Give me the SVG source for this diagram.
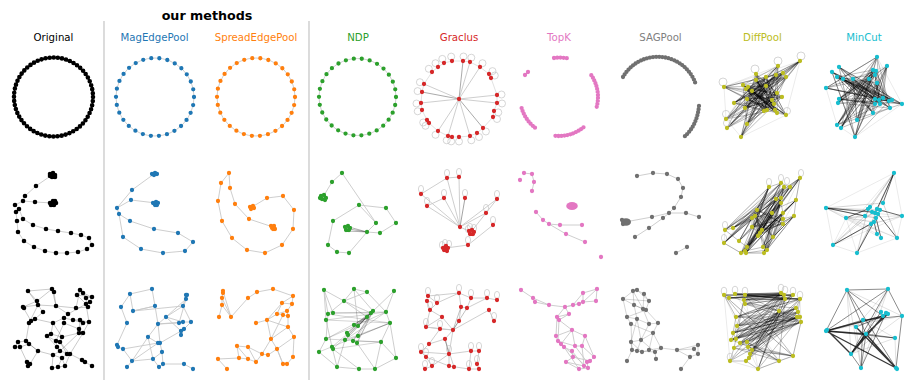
<svg xmlns="http://www.w3.org/2000/svg" width="913" height="388" viewBox="0 0 913 388">
<style>
text{font-family:"DejaVu Sans","Noto Sans",sans-serif;font-size:10.2px;text-anchor:middle}
.h{font-size:12.7px;font-weight:bold}
.n{fill:none;stroke-linecap:round;stroke-width:4.3}
.k{stroke:#000;stroke-width:4.6}
.b{stroke:#1f77b4}.o{stroke:#ff7f0e}.g{stroke:#2ca02c}.r{stroke:#d62728}.p{stroke:#e377c2}.s{stroke:#707070}.y{stroke:#bcbd22}.c{stroke:#17becf}
.e{fill:none;stroke:#c8c8c8;stroke-width:.9;stroke-linejoin:round}
.t{fill:none;stroke:#000;stroke-opacity:.24;stroke-width:.7;stroke-linejoin:round}
.d{fill:none;stroke:#000;stroke-opacity:.34;stroke-width:.75;stroke-linejoin:round}
.w{fill:none;stroke:#000;stroke-opacity:.12;stroke-width:.7;stroke-linejoin:round}
.lp{fill:none;stroke:#c4c4c4;stroke-width:.7}
.sep{stroke:#d3d3d3;stroke-width:1.6}
</style>
<rect width="913" height="388" fill="#fff"/>
<g id="titles">
<text x="207" y="20" class="h">our methods</text>
<text x="53.5" y="41">Original</text>
<text x="154.5" y="41" fill="#1f77b4">MagEdgePool</text>
<text x="256" y="41" fill="#ff7f0e">SpreadEdgePool</text>
<text x="358" y="41" fill="#2ca02c">NDP</text>
<text x="459" y="41" fill="#d62728">Graclus</text>
<text x="559" y="41" fill="#e377c2">TopK</text>
<text x="660.5" y="41" fill="#7f7f7f">SAGPool</text>
<text x="762.5" y="41" fill="#bcbd22">DiffPool</text>
<text x="864" y="41" fill="#17becf">MinCut</text>
</g>
<g id="separators">
<line x1="104" y1="21" x2="104" y2="380" class="sep"/>
<line x1="309" y1="21" x2="309" y2="380" class="sep"/>
</g>
<g id="connectors">
<circle cx="155" cy="97" r="39" class="e"/>
<circle cx="256" cy="97" r="39" class="e"/>
<circle cx="357.5" cy="97" r="38.5" class="e"/>
<path class="e" style="stroke:#dedede" d="M432 72L438 67L444 63L452 61L463 61L470 62L480 67L489 74L491 78L497 95L497 103L494 111L493 117L483 128L477 133L470 136L459 137L452 137L448 136L438 131L429 123L427 120L422 110L421 103L422 92L424 84Z"/>
<path class="e" d="M459 99L470 62M459 99L480 67M459 99L424 84M459 99L421 103M459 99L497 95M459 99L497 103M459 99L448 136M459 99L470 136M459 99L438 131"/>
<path class="e" style="stroke:#a0a0a0" d="M459 99L463 61M459 99L422 92M459 99L483 128"/>
<g class="lp"><circle cx="428.8" cy="68.8" r="3.5"/><circle cx="435.5" cy="63.2" r="3.5"/><circle cx="442.3" cy="58.9" r="3.5"/><circle cx="451.2" cy="56.6" r="3.5"/><circle cx="463.5" cy="56.5" r="3.5"/><circle cx="471.3" cy="57.7" r="3.5"/><circle cx="482.5" cy="63.2" r="3.5"/><circle cx="492.5" cy="71.1" r="3.5"/><circle cx="494.8" cy="75.5" r="3.5"/><circle cx="501.5" cy="94.5" r="3.5"/><circle cx="502" cy="103.5" r="3.5"/><circle cx="498.3" cy="112.4" r="3.5"/><circle cx="497" cy="119" r="3.5"/><circle cx="485.9" cy="131.5" r="3.5"/><circle cx="479" cy="137" r="3.5"/><circle cx="471.3" cy="140.3" r="3.5"/><circle cx="459" cy="141.5" r="3.5"/><circle cx="451.2" cy="141.4" r="3.5"/><circle cx="446.7" cy="140.3" r="3.5"/><circle cx="435.5" cy="134.8" r="3.5"/><circle cx="425.5" cy="125.8" r="3.5"/><circle cx="423.2" cy="122.5" r="3.5"/><circle cx="417.7" cy="111.3" r="3.5"/><circle cx="416.5" cy="103.5" r="3.5"/><circle cx="417.6" cy="91.1" r="3.5"/><circle cx="419.9" cy="82.2" r="3.5"/></g>
<path class="w" d="M800 61L724 87L726 119L741 137L786 115L800 61L727 128M800 61L741 137M778 66L724 87M778 66L741 137M756 74L726 119M724 87L786 115M800 61L745 108M778 66L727 128M724 87L777 113"/>
<path class="d" d="M800 61L734 103L776 75L747 124L743 85L777 113L756 74L741 137L766 86L724 87L782 97L745 108L783 73L727 128L748 87L775 110L756 80L726 119L777 93L746 89L764 111L778 66L747 99L786 115L766 77L752 91L774 104L786 77L772 100L767 110"/>
<path class="d" d="M778 66L726 119L786 77L745 108L766 77L741 137L782 97L743 85L767 110L756 74L786 115L734 103L766 86L727 128L783 73L752 91L777 113L724 87L772 100L756 80L774 104L747 124L800 61L746 89L775 110L747 99L776 75L764 111L748 87L777 93"/>
<path class="d" d="M724 87L777 93L727 128L776 75L747 99L800 61L745 108L752 91L786 115L756 80L764 111L743 85L786 77L747 124L782 97L756 74L775 110L726 119L778 66L774 104L734 103L783 73L741 137L766 86L748 87L777 113L766 77L746 89L767 110L772 100"/>
<path class="d" d="M741 137L756 80L782 97L726 119L800 61L752 91L767 110L724 87L783 73L764 111L734 103L786 77L746 89L786 115L743 85L778 66L777 113L747 99L766 77L747 124L777 93L756 74L745 108L772 100L727 128L774 104L748 87L800 61L766 86L776 75"/>
<path class="d" d="M746 89L774 104L752 91L775 110L748 87L782 97L747 99L767 110L766 86L745 108L777 93L764 111L772 100L743 85L777 113L756 80L786 115L766 77L734 103L783 73"/>
<path class="d" d="M724 87L783 73L726 119L776 75L727 128L800 61L741 137L778 66L734 103L786 77L745 108L782 97L747 99L777 93L747 124L766 86L746 89L786 115L752 91L777 113L748 87L775 110L756 80L767 110L756 74L764 111L743 85L774 104L766 77L772 100"/>
<g class="lp"><circle cx="801" cy="56" r="4"/><circle cx="778" cy="61" r="4"/><circle cx="755" cy="69" r="4"/><circle cx="723" cy="82" r="4"/><circle cx="726" cy="114" r="3.6"/><circle cx="727" cy="123" r="3.6"/><circle cx="787" cy="111" r="3.5"/></g>
<path class="w" d="M877 57L826 88L837 125L855 137L902 104L877 57M887 66L826 88M839 67L902 104M832 72L855 137M877 57L841 128M887 66L855 137M826 88L902 104M839 67L855 137M832 72L873 113M877 57L837 125"/>
<path class="d" d="M877 57L826 88L902 104L832 72L855 137L887 66L837 125L873 70L838 103L892 100L837 77L857 120L853 79L841 128L875 75L839 99L880 104L839 67L873 113L869 79L875 99L843 79L890 108L876 71L879 100L877 83L875 104L883 98L889 101"/>
<path class="d" d="M839 67L902 104L826 88L877 57L855 137L832 72L892 100L837 125L876 71L839 99L883 98L837 77L873 113L887 66L838 103L853 79L890 108L841 128L873 70L857 120L875 75L843 79L875 104L877 83L889 101L869 79L879 100L880 104L875 99"/>
<path class="d" d="M826 88L869 79L841 128L877 57L837 125L902 104L839 67L855 137L887 66L839 99L875 104L832 72L879 100L857 120L873 70L837 77L880 104L853 79L892 100L877 83L838 103L875 75L890 108L843 79L883 98L873 113L876 71L889 101L875 99"/>
<path class="d" d="M832 72L883 98L837 125L876 71L826 88L889 101L855 137L877 57L838 103L890 108L839 67L873 113L843 79L902 104L839 99L873 70L841 128L877 83L837 77L875 99L857 120L887 66L875 104L853 79L879 100L875 75L880 104L869 79L892 100"/>
<path class="d" d="M826 88L892 100L837 77L889 101L839 67L879 100L832 72L875 104L839 99L876 71L838 103L873 70L837 125L875 75L841 128L877 83L855 137L869 79L857 120L853 79L873 113L843 79L890 108L877 57L880 104L887 66L883 98L875 99L902 104"/>
<path class="e" d="M52 175L36 186L25 196L23 201L15 205L19 209L16 212L17 221L18 232L24 241L34 247L45 251L56 253L67 253L78 252L87 249L92 245L89 238L81 235L71 233L58 231L46 229L33 225L23 219L19 209M53 203L35 202L23 201"/>
<path class="e" d="M154 174L132 190L117 208L119 214M131 200L156 203M117 208L131 200M119 214L123 237L141 249L163 253L185 251L193 242L178 233L154 229L130 221L119 214"/>
<path class="e" d="M229 173L221 183L218 201L222 221L232 238L247 250L265 253L282 245L293 229L294 210L283 196L267 198L252 207M229 173L230 188L235 204L249 219L273 227"/>
<path class="e" d="M323 197L332 182L342 173L376 223M359 205L386 208L396 223L380 233L367 232L349 253L337 252L328 245L333 221L359 205L376 223L367 232"/>
<path class="t" style="stroke-opacity:.45" d="M349 227L367 232M349 229L367 232M348 231L367 232"/>
<path class="e" d="M421 194L447 178L459 177L460 227L421 194M460 227L444 198L427 206M460 227L427 206M460 227L497 199L486 213L471 232M460 227L486 213M493 225L468 245L446 248M460 227L471 232M447 178L460 227"/>
<path class="e" style="stroke:#999" d="M460 227L465 198"/>
<g class="lp"><ellipse cx="447" cy="173" rx="2.6" ry="3.6"/><ellipse cx="459" cy="172" rx="2.6" ry="3.6"/><ellipse cx="421" cy="189" rx="2.6" ry="3.6"/><ellipse cx="444" cy="193" rx="2.6" ry="3.6"/><ellipse cx="465" cy="193" rx="2.6" ry="3.6"/><ellipse cx="427" cy="201" rx="2.6" ry="3.6"/><ellipse cx="497" cy="194" rx="2.6" ry="3.6"/><ellipse cx="486" cy="208" rx="2.6" ry="3.6"/><ellipse cx="493" cy="220" rx="2.6" ry="3.6"/><ellipse cx="468" cy="240" rx="2.6" ry="3.6"/><ellipse cx="470" cy="227" rx="2.6" ry="3.6"/><ellipse cx="474" cy="228" rx="2.6" ry="3.6"/><ellipse cx="468" cy="229" rx="2.6" ry="3.6"/><ellipse cx="445" cy="243" rx="2.6" ry="3.6"/><ellipse cx="449" cy="244" rx="2.6" ry="3.6"/><ellipse cx="442" cy="245" rx="2.6" ry="3.6"/></g>
<path class="e" d="M524 173L532 174L534 182L532 191M536 212L543 220L549 224L560 225L582 225M549 224L566 234L585 242"/>
<path class="e" d="M637 176L653 173L667 174L678 179L683 188L681 197L674 208L669 213L663 218L649 228L635 237M625 222L652 217L669 213L686 213L699 217M687 247L676 253"/>
<path class="w" d="M800 178L724 243L741 253L764 253L796 200L800 178L725 230L724 243M769 187L725 230M781 183L733 228M800 178L764 253M769 187L724 243M796 200L741 253M800 178L746 253"/>
<path class="d" d="M800 178L741 253L781 183L724 243L790 187L747 247L769 187L725 230L784 187L745 251L781 198L733 228L796 200L746 253L776 199L739 241L781 203L763 247L794 216L764 253L783 213L767 250L772 213L758 236L757 210L760 233L783 219L752 227L783 224L762 230L755 216L773 237L752 218"/>
<path class="d" d="M725 230L800 178L745 251L784 187L724 243L781 183L746 253L790 187L739 241L769 187L741 253L796 200L747 247L781 198L733 228L776 199L764 253L781 203L763 247L772 213L760 233L783 213L752 227L794 216L758 236L783 219L762 230L783 224L757 210L773 237L755 216L767 250L752 218"/>
<path class="d" d="M724 243L741 253L764 253L783 224L794 216L796 200L800 178L790 187L781 183L769 187L757 210L733 228L725 230L739 241L747 247L746 253L767 250L773 237L783 219L783 213L781 203L772 213L752 218L752 227L760 233L763 247L745 251L758 236L762 230L755 216L776 199L781 198L784 187"/>
<path class="d" d="M741 253L790 187L745 251L800 178L746 253L796 200L747 247L781 183L764 253L784 187L767 250L794 216L763 247L781 198L773 237L783 213L758 236L781 203L760 233L772 213L762 230L776 199L752 227L769 187L739 241L757 210L724 243L755 216L733 228L752 218"/>
<path class="d" d="M739 241L800 178L733 228L781 183L725 230L790 187L724 243L784 187L747 247L769 187L745 251L781 198L741 253L796 200L746 253L776 199L752 227L781 203L762 230L772 213L760 233L783 213L758 236L794 216L773 237L783 224L757 210L783 219L755 216L752 218"/>
<g class="lp"><ellipse cx="769" cy="182" rx="2.6" ry="3.6"/><ellipse cx="781" cy="178" rx="2.6" ry="3.6"/><ellipse cx="801" cy="173" rx="2.6" ry="3.6"/><ellipse cx="787" cy="181" rx="2.6" ry="3.6"/><ellipse cx="725" cy="225" rx="2.6" ry="3.6"/><ellipse cx="724" cy="238" rx="2.6" ry="3.6"/></g>
<path class="w" d="M894 173L826 208L833 245L857 253L897 238L902 216L894 173M826 208L902 216M846 218L902 216M826 208L897 238M894 173L833 245M846 218L857 253M826 208L881 238M846 218L897 238M833 245L902 216M894 173L857 253M826 208L877 234M846 218L833 245"/>
<path class="t" d="M894 173L865 216L833 245M894 173L871 224L857 253M826 208L883 203L897 238M846 218L878 214M846 218L874 222M902 216L871 224L833 245M868 209L857 253M877 209L833 245M880 210L826 208M826 208L876 218M894 173L868 209"/>
<path fill="none" stroke="#000" stroke-opacity=".6" stroke-width="1" d="M875 213L894 173M872 212L826 208M874 222L833 245M876 218L857 253M878 214L897 238M876 218L881 238M868 209L846 218M880 210L902 216M877 234L874 222M883 203L894 173M865 216L826 208"/>
<path class="t" style="stroke-opacity:.3" d="M28 291L37 301L23 307L38 305L28 291L52 289L56 306L38 305L43 312L35 319M52 289L37 301M54 292L56 306L68 314L64 318M56 306L76 308L80 290L77 295L86 304L90 302L92 297L83 293L80 290L86 298L88 307L76 308M83 293L90 302M86 298L92 297M77 295L92 297M68 314L86 304L89 322L80 320L73 320L64 318L53 323L35 319L31 321L29 323L35 319M64 323L79 329L83 333L79 333L62 337M83 323L79 329M89 322L83 333M73 320L83 323L89 322M80 320L79 333M53 323L51 334L47 336L56 341L60 342L62 337L51 334M53 323L62 337M64 323L56 341M29 323L26 341M18 342L26 341L29 344L20 347L15 347L18 342L20 347M29 344L38 351L53 355M38 351L26 341M57 347L60 351L53 355L62 358L67 354L70 354L60 351M57 347L56 341M60 342L67 354M70 354L82 360L85 362L92 366M62 358L65 366L58 367L52 368L53 355M58 367L62 358M65 366L70 354M27 362L30 364L28 366L27 362L20 347M30 364L38 351M83 333L70 354M79 333L60 351M47 336L57 347M60 342L70 354M29 323L38 305M23 307L31 321"/>
<path class="e" d="M130 294L152 289L155 306L133 311L130 294L121 307M133 311L155 306M155 306L158 324L166 317L183 306L186 295L187 295L186 299L179 323M183 306L191 322M158 324L179 323L183 322L191 322L184 329L181 331L166 317M181 331L181 335L184 329M166 317L183 322M158 324L148 337L158 343L160 343L162 352L163 364L159 367L153 359L148 337M153 359L162 352M132 361L158 343M121 307L127 323L117 345L118 347L123 349L132 361L127 367M132 361L153 359M163 364L184 364L193 369M158 324L160 343M181 331L160 343M158 324L183 322M166 317L186 299M148 337L132 361M123 349L158 343M133 311L183 306"/>
<path class="e" d="M223 291L222 298L222 305L219 317M223 291L231 317L222 298M222 305L231 317L248 298L257 292L273 289L293 296L292 304L287 311L288 316L283 315L277 314L267 320L256 323M282 303L292 304M282 303L277 314M293 296L282 303M282 303L267 320M287 311L277 314M267 320L288 327L294 337L293 357L287 364L283 364L277 349L271 339L288 327M271 339L262 354L248 347L237 346L239 358L218 359L227 369M237 346L248 359L256 362L262 354L268 355L277 349L294 337M248 347L256 362M271 339L267 320M277 349L283 364M239 358L248 359M288 316L288 327M271 339L283 315"/>
<path class="e" d="M324 290L344 301L354 289L367 292L344 301L328 314L324 290L326 320M354 289L373 311M367 292L386 312L394 291L371 313M344 301L367 317M328 314L326 339L319 352L337 367L359 369L375 369L396 358L381 342L390 323L386 312M326 320L332 347L337 367M333 349L359 369M345 340L337 367M357 343L375 369M381 342L375 369M390 323L396 358M324 290L333 313M344 301L371 313M354 289L358 326"/>
<path class="t" d="M373 311L354 325M373 311L358 326M371 313L347 333M371 313L348 335M373 311L345 340M371 313L353 341M373 311L357 343M367 317L326 339M367 317L332 347M386 312L333 313M390 323L326 320M390 323L328 314M386 312L326 320M381 342L326 339M381 342L333 349M373 311L333 349M371 313L333 313M390 323L319 352M386 312L345 340"/>
<path class="t" d="M373 311L354 325M371 313L358 326M373 311L347 333M371 313L345 340M373 311L353 341M367 317L354 325M358 336L373 311M358 336L390 323M353 341L381 342M345 340L390 323M326 339L386 312M357 343L373 311"/>
<path class="e" d="M428 296L459 293L471 298L487 298L497 300M428 296L437 303L430 310L442 317L453 330L459 321L461 307L459 293M437 303L459 293M461 307L467 308L471 298M467 308L487 298M453 330L489 310L494 321M453 330L445 339L449 354L449 366L454 367M453 330L426 327L440 329L453 330M440 329L429 344L421 352L426 357L432 366L425 369M429 344L445 339M421 352L449 354L471 351L479 351L477 364L479 369L469 369L471 351M449 354L432 366M449 366L469 369M445 339L454 367M426 327L430 310M442 317L426 327M427 301L430 310M453 330L449 354M426 357L449 366"/>
<path class="t" style="stroke-opacity:.35" d="M453 330L467 308M453 330L461 307M445 339L449 354"/>
<g class="lp"><ellipse cx="428" cy="291" rx="2.6" ry="3.6"/><ellipse cx="459" cy="288" rx="2.6" ry="3.6"/><ellipse cx="471" cy="293" rx="2.6" ry="3.6"/><ellipse cx="487" cy="293" rx="2.6" ry="3.6"/><ellipse cx="497" cy="295" rx="2.6" ry="3.6"/><ellipse cx="437" cy="298" rx="2.6" ry="3.6"/><ellipse cx="430" cy="305" rx="2.6" ry="3.6"/><ellipse cx="426" cy="322" rx="2.6" ry="3.6"/><ellipse cx="421" cy="347" rx="2.6" ry="3.6"/><ellipse cx="426" cy="352" rx="2.6" ry="3.6"/><ellipse cx="432" cy="361" rx="2.6" ry="3.6"/><ellipse cx="449" cy="349" rx="2.6" ry="3.6"/><ellipse cx="471" cy="346" rx="2.6" ry="3.6"/><ellipse cx="479" cy="346" rx="2.6" ry="3.6"/><ellipse cx="469" cy="364" rx="2.6" ry="3.6"/><ellipse cx="477" cy="359" rx="2.6" ry="3.6"/><ellipse cx="425" cy="364" rx="2.6" ry="3.6"/><ellipse cx="494" cy="316" rx="2.6" ry="3.6"/><ellipse cx="440" cy="324" rx="2.6" ry="3.6"/></g>
<path class="e" d="M521 290L533 298L549 305L565 307L573 305L583 293L597 289L596 301L583 302L579 304L565 307M583 293L583 302L573 305M597 289L583 302M569 314L565 307M569 314L557 317L559 320L572 330L556 336L558 341L561 344L564 347L572 351L573 357L566 362L579 369L588 368L587 362L590 361L594 357L582 346L575 346L572 330L585 336L582 346M557 317L556 336M559 320L558 341M572 330L561 344M585 336L594 357M572 351L584 366M575 346L587 362M564 347L579 369M573 357L590 361M561 344L588 368M582 346L584 366M566 362L584 366M558 341L575 346M535 302L549 305M569 314L559 320M565 307L557 317"/>
<path class="t" d="M623 299L633 291L637 290L644 294L649 301L646 310L643 309L634 305L623 299L627 317L631 324L632 350L627 361M633 291L634 305L637 319L641 340L637 351M637 290L649 301M644 294L643 309L649 324L658 323L653 333L641 340L631 342L632 350L637 351L642 352L649 350L661 348L655 352L656 359M627 317L637 319L649 324M634 305L646 310L658 323M631 324L653 333L661 348M649 324L641 340M653 333L649 350M631 342L642 352M637 319L631 342M661 348L677 350L698 345L694 349L698 354L690 357L677 350M698 345L698 354M690 357L681 369M694 349L677 350M623 299L649 301M633 291L643 309M627 317L646 310M655 352L637 351M641 340L655 352"/>
<path class="w" d="M724 295L800 299L801 322L793 356L758 369L730 361L724 295M724 295L758 369M800 299L730 361M745 295L758 369M724 295L793 356M735 294L779 361"/>
<path class="d" d="M724 295L800 299L729 298L793 295L735 294L785 299L745 295L784 295L744 300L781 293L745 304L801 322L736 317L797 317L737 326L800 317L733 333L798 312L731 340L796 308L736 339L779 311L740 343L793 356L734 348L779 361L747 342L801 322L748 347L800 317L752 350L796 308"/>
<path class="d" d="M750 354L781 293L730 361L800 299L746 361L793 295L749 358L784 295L758 369L785 299L779 361L724 295L793 356L745 295L801 322L731 340L797 317L740 343L798 312L747 342L779 311L752 350L796 308L733 333L800 317L736 339L781 293L737 326L793 295L736 317L800 299"/>
<path class="d" d="M724 295L781 293L735 294L800 299L744 300L793 295L729 298L784 295L745 295L785 299L745 304L779 311L724 295L736 317L733 333L736 339L734 348L730 361L746 361L758 369L779 361L793 356L801 322L798 312L800 299L796 308L800 317L779 311L748 347L750 354L749 358L752 350L747 342L740 343L731 340L737 326L744 300"/>
<path class="d" d="M730 361L801 322L734 348L796 308L731 340L793 295L733 333L781 293L737 326L800 299L736 317L785 299L758 369L800 317L746 361L798 312L750 354L779 311L752 350L793 356L748 347L797 317L747 342L779 361L740 343L784 295L736 339L745 295"/>
<path class="d" d="M724 295L784 295L729 298L781 293L735 294L793 295L745 295L800 299L744 300L785 299L745 304L796 308M736 317L798 312L737 326L796 308L733 333L800 317L731 340L801 322L740 343L779 311L747 342L797 317"/>
<g class="lp"><ellipse cx="724" cy="291" rx="2.8" ry="3.8"/><ellipse cx="735" cy="290" rx="2.8" ry="3.8"/><ellipse cx="745" cy="291" rx="2.8" ry="3.8"/><ellipse cx="781" cy="288" rx="2.8" ry="3.8"/><ellipse cx="785" cy="290" rx="2.8" ry="3.8"/><ellipse cx="793" cy="291" rx="2.8" ry="3.8"/><ellipse cx="800" cy="295" rx="2.8" ry="3.8"/><ellipse cx="730" cy="357" rx="2.8" ry="3.8"/></g>
<path fill="none" stroke="#000" stroke-opacity=".15" stroke-width=".8" d="M847 290L902 316M847 290L861 368M888 289L861 368M888 289L856 327M902 316L851 354M895 338L851 354M895 338L896 368M902 316L826 331M847 290L851 354M863 320L895 338M856 327L861 368M888 289L866 334"/>
<path fill="none" stroke="#000" stroke-opacity=".45" stroke-width="1" d="M847 290L888 289M847 290L826 331M847 290L866 334M847 290L896 368M888 289L851 354M888 289L826 331M888 289L902 316M863 320L826 331M863 320L861 368M856 327L888 314M881 312L851 354M895 338L826 331M895 338L866 334M861 368L866 334M861 368L886 313M896 368L902 316M863 320L902 316M847 290L883 316M851 354L861 368"/>
<path fill="none" stroke="#000" stroke-opacity=".78" stroke-width="1.4" d="M826 331L866 334L896 368M827 330L851 354M826 331L896 368M851 354L886 313M866 334L888 314M866 334L851 354M826 331L883 316M856 327L896 368"/>
</g>
<g id="n-original-1"><circle cx="53.5" cy="97" r="39.5" class="n k" stroke-dasharray="0 4.136"/></g>
<g id="n-mag-1"><circle cx="155" cy="97" r="39" class="n b" stroke-dasharray="0 8.168"/></g>
<g id="n-spread-1"><circle cx="256" cy="97" r="39" class="n o" stroke-dasharray="0 8.168"/></g>
<g id="n-ndp-1"><circle cx="357.5" cy="97" r="38.5" class="n g" stroke-dasharray="0 8.063"/></g>
<g id="n-graclus-1"><path class="n r" d="M432 72h0M438 67h0M444 63h0M452 61h0M463 61h0M470 62h0M480 67h0M489 74h0M491 78h0M497 95h0M497 103h0M494 111h0M493 117h0M483 128h0M477 133h0M470 136h0M459 137h0M452 137h0M448 136h0M438 131h0M429 123h0M427 120h0M422 110h0M421 103h0M422 92h0M424 84h0M459 99h0"/></g>
<g id="n-topk-1"><path class="n p" stroke-width="3.6" d="M554 58h0M557.2 57.7h0M560.4 57.6h0M563.6 57.8h0M566.8 58.2h0M525 75h0M528 72h0"/><path class="n p" stroke-width="3.6" stroke-dasharray="0 3" d="M591.3 75.2A39 39 0 0 1 596.3 108.4M535 127.7A39 39 0 0 1 521.5 107.7M583.5 127.3A39 39 0 0 1 554.2 135.7"/></g>
<g id="n-sagpool-1"><path class="n s" stroke-width="3.5" stroke-dasharray="0 3.1" d="M623 77A40 40 0 0 1 696 85M699 106Q697 126 684 137"/></g>
<g id="n-diffpool-1"><path class="n y" d="M800 61h0M778 66h0M756 74h0M756 80h0M766 77h0M776 75h0M783 73h0M786 77h0M724 87h0M743 85h0M746 89h0M748 87h0M752 91h0M766 86h0M777 93h0M772 100h0M782 97h0M747 99h0M734 103h0M745 108h0M774 104h0M764 111h0M767 110h0M775 110h0M777 113h0M786 115h0M726 119h0M747 124h0M727 128h0M741 137h0"/></g>
<g id="n-mincut-1"><path class="n c" d="M877 57h0M887 66h0M839 67h0M832 72h0M837 77h0M843 79h0M853 79h0M869 79h0M873 70h0M876 71h0M875 75h0M877 83h0M826 88h0M839 99h0M838 103h0M875 99h0M879 100h0M883 98h0M880 104h0M875 104h0M889 101h0M892 100h0M902 104h0M890 108h0M873 113h0M857 120h0M837 125h0M841 128h0M855 137h0"/></g>
<g id="n-original-2"><path class="n k" d="M50 174h0M53 173h0M55 175h0M52 177h0M55 177h0M50 176h0M50 203h0M53 201h0M56 203h0M54 205h0M51 205h0M55 201h0M36 186h0M25 196h0M23 201h0M35 202h0M15 205h0M19 209h0M16 212h0M17 221h0M23 219h0M33 225h0M46 229h0M58 231h0M71 233h0M81 235h0M89 238h0M92 245h0M87 249h0M78 252h0M67 253h0M56 253h0M45 251h0M34 247h0M24 241h0M18 232h0"/></g>
<g id="n-mag-2"><path class="n b" d="M152 174h0M155 173h0M157 174h0M154 175h0M153 203h0M156 202h0M158 203h0M155 205h0M157 205h0M132 190h0M131 200h0M117 208h0M119 214h0M130 221h0M154 229h0M178 233h0M193 242h0M185 251h0M163 253h0M141 249h0M123 237h0"/></g>
<g id="n-spread-2"><path class="n o" d="M229 173h0M221 183h0M230 188h0M218 201h0M235 204h0M267 198h0M283 196h0M294 210h0M293 229h0M282 245h0M265 253h0M247 250h0M232 238h0M222 221h0M249 219h0M250 207h0M253 206h0M254 208h0M251 209h0M271 226h0M274 226h0M273 229h0M275 229h0M272 228h0"/></g>
<g id="n-ndp-2"><path class="n g" d="M321 196h0M324 195h0M326 198h0M322 199h0M325 200h0M320 198h0M332 182h0M342 173h0M359 205h0M386 208h0M396 223h0M380 233h0M367 232h0M376 223h0M333 221h0M328 245h0M337 252h0M349 253h0M345 227h0M348 226h0M350 228h0M346 230h0M349 230h0"/></g>
<g id="n-graclus-2"><path class="n r" d="M447 178h0M459 177h0M421 194h0M444 198h0M465 198h0M427 206h0M497 199h0M486 213h0M493 225h0M460 227h0M468 245h0M469 231h0M472 230h0M474 232h0M470 234h0M473 234h0M443 248h0M446 246h0M448 248h0M444 250h0M447 251h0M445 249h0"/></g>
<g id="n-topk-2"><path class="n p" d="M524 173h0M532 174h0M520 180h0M534 182h0M532 191h0M536 212h0M543 220h0M549 224h0M560 225h0M582 225h0M566 234h0M585 242h0M601 257h0"/><ellipse cx="572" cy="206" rx="5.8" ry="4" fill="#e377c2"/></g>
<g id="n-sagpool-2"><path class="n s" d="M637 176h0M653 173h0M667 174h0M678 179h0M683 188h0M681 197h0M674 208h0M669 213h0M663 218h0M652 217h0M686 213h0M699 217h0M649 228h0M635 237h0M687 247h0M676 253h0M622 220h0M623 224h0"/><ellipse cx="626" cy="222" rx="5" ry="3.8" fill="#707070"/></g>
<g id="n-diffpool-2"><path class="n y" d="M800 178h0M781 183h0M784 187h0M790 187h0M769 187h0M776 199h0M781 198h0M781 203h0M796 200h0M757 210h0M755 216h0M752 218h0M772 213h0M783 213h0M794 216h0M783 219h0M783 224h0M752 227h0M762 230h0M760 233h0M758 236h0M773 237h0M739 241h0M733 228h0M725 230h0M724 243h0M747 247h0M745 251h0M741 253h0M746 253h0M763 247h0M767 250h0M764 253h0"/></g>
<g id="n-mincut-2"><path class="n c" d="M868 209h0M865 216h0M871 224h0M875 213h0M877 209h0M872 212h0M876 218h0M874 222h0M878 214h0M883 203h0M870 207h0M880 210h0M894 173h0M826 208h0M846 218h0M902 216h0M833 245h0M857 253h0M897 238h0M881 238h0M877 234h0"/></g>
<g id="n-original-3"><path class="n k" d="M28 291h0M52 289h0M54 292h0M80 290h0M83 293h0M77 295h0M92 297h0M86 298h0M90 302h0M37 301h0M23 307h0M24 308h0M38 305h0M56 306h0M43 312h0M68 314h0M76 308h0M86 304h0M88 307h0M35 319h0M31 321h0M29 323h0M53 323h0M64 318h0M64 323h0M73 320h0M80 320h0M83 323h0M89 322h0M79 329h0M83 333h0M79 333h0M51 334h0M47 336h0M62 337h0M56 341h0M60 342h0M18 342h0M26 341h0M29 344h0M15 347h0M20 347h0M38 351h0M57 347h0M60 351h0M67 354h0M53 355h0M62 358h0M70 354h0M82 360h0M85 362h0M27 362h0M30 364h0M28 366h0M52 368h0M58 367h0M65 366h0M92 366h0"/></g>
<g id="n-mag-3"><path class="n b" d="M130 294h0M152 289h0M121 307h0M133 311h0M155 306h0M183 306h0M186 295h0M187 295h0M186 299h0M127 323h0M158 324h0M166 317h0M179 323h0M183 322h0M191 322h0M181 331h0M184 329h0M181 335h0M148 337h0M158 343h0M160 343h0M117 345h0M118 347h0M123 349h0M162 352h0M153 359h0M132 361h0M163 364h0M159 367h0M127 367h0M184 364h0M193 369h0"/></g>
<g id="n-spread-3"><path class="n o" d="M223 291h0M223 293h0M222 298h0M222 305h0M219 317h0M231 317h0M248 298h0M257 292h0M273 289h0M293 296h0M282 303h0M292 304h0M287 311h0M277 314h0M283 315h0M288 316h0M267 320h0M256 323h0M288 327h0M294 337h0M271 339h0M237 346h0M248 347h0M277 349h0M262 354h0M268 355h0M239 358h0M248 359h0M256 362h0M218 359h0M293 357h0M283 364h0M287 364h0M227 369h0"/></g>
<g id="n-ndp-3"><path class="n g" d="M324 290h0M354 289h0M367 292h0M394 291h0M344 301h0M328 314h0M333 313h0M326 320h0M373 311h0M371 313h0M386 312h0M390 323h0M367 317h0M358 326h0M354 325h0M347 333h0M348 335h0M326 339h0M345 340h0M353 341h0M358 336h0M357 343h0M381 342h0M332 347h0M333 349h0M319 352h0M396 358h0M337 367h0M359 369h0M375 369h0"/></g>
<g id="n-graclus-3"><path class="n r" d="M428 296h0M427 301h0M437 303h0M459 293h0M471 298h0M487 298h0M497 300h0M430 310h0M461 307h0M467 308h0M489 310h0M442 317h0M459 321h0M494 321h0M426 327h0M440 329h0M453 330h0M445 339h0M429 344h0M421 352h0M449 354h0M471 351h0M479 351h0M426 357h0M432 366h0M449 366h0M454 367h0M425 369h0M469 369h0M477 364h0M479 369h0"/></g>
<g id="n-topk-3"><path class="n p" d="M521 290h0M533 298h0M535 302h0M549 305h0M583 293h0M597 289h0M583 302h0M596 301h0M579 304h0M573 305h0M565 307h0M569 314h0M557 317h0M559 320h0M572 330h0M556 336h0M585 336h0M558 341h0M561 344h0M564 347h0M575 346h0M582 346h0M572 351h0M573 357h0M594 357h0M566 362h0M590 361h0M587 362h0M584 366h0M588 368h0M579 369h0"/></g>
<g id="n-sagpool-3"><path class="n s" d="M623 299h0M633 291h0M637 290h0M644 294h0M649 301h0M634 305h0M643 309h0M646 310h0M627 317h0M637 319h0M631 324h0M649 324h0M658 323h0M653 333h0M641 340h0M631 342h0M632 350h0M637 351h0M642 352h0M649 350h0M661 348h0M655 352h0M627 361h0M656 359h0M677 350h0M698 345h0M694 349h0M698 354h0M690 357h0M681 369h0"/></g>
<g id="n-diffpool-3"><path class="n y" d="M724 295h0M729 298h0M735 294h0M745 295h0M744 300h0M745 304h0M781 293h0M784 295h0M785 299h0M793 295h0M800 299h0M779 311h0M796 308h0M798 312h0M800 317h0M797 317h0M801 322h0M736 317h0M737 326h0M733 333h0M731 340h0M736 339h0M740 343h0M734 348h0M747 342h0M748 347h0M752 350h0M750 354h0M730 361h0M746 361h0M749 358h0M758 369h0M779 361h0M793 356h0"/></g>
<g id="n-mincut-3"><path class="n c" d="M847 290h0M888 289h0M902 316h0M881 312h0M886 313h0M888 314h0M883 316h0M863 320h0M856 327h0M827 330h0M826 331h0M866 334h0M895 338h0M851 354h0M861 368h0M896 368h0M897 369h0"/></g>
</svg>
